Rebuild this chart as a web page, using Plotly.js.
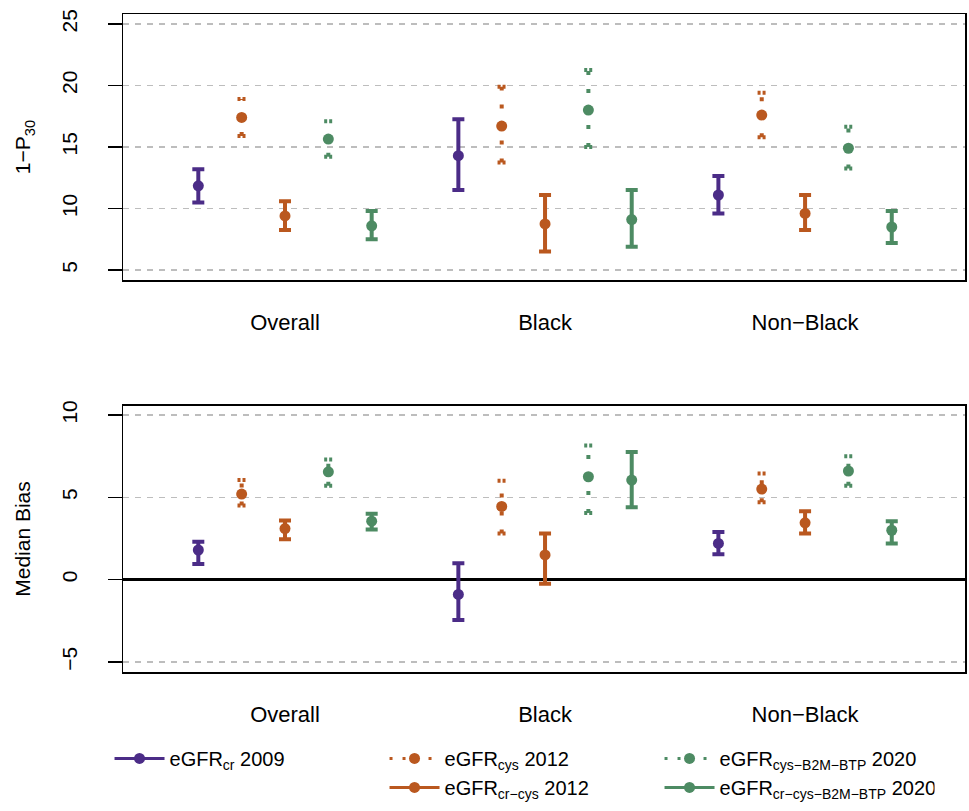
<!DOCTYPE html>
<html><head><meta charset="utf-8">
<script src="https://cdn.plot.ly/plotly-3.0.1.min.js"></script>
<style>html,body{margin:0;padding:0;background:#fff}</style>
</head><body><div id="chart" style="width:969px;height:811px"></div>
<script>
// ---- data ----
const groups = ["Overall", "Black", "Non\u2212Black"];
const seriesNames = [
  "eGFR<sub>cr</sub> 2009",
  "eGFR<sub>cys</sub> 2012",
  "eGFR<sub>cr\u2212cys</sub> 2012",
  "eGFR<sub>cys\u2212B2M\u2212BTP</sub> 2020",
  "eGFR<sub>cr\u2212cys\u2212B2M\u2212BTP</sub> 2020"
];
// Panel 1: 1-P30 (estimate, lower, upper) per group
const p30_cr2009      = [11.85, 14.3, 11.1];
const p30_cr2009_lo   = [10.5, 11.5, 9.6];
const p30_cr2009_hi   = [13.2, 17.25, 12.65];
const p30_cys2012     = [17.4, 16.7, 17.6];
const p30_cys2012_lo  = [15.9, 13.75, 15.8];
const p30_cys2012_hi  = [18.9, 19.9, 19.4];
const p30_crcys2012   = [9.4, 8.75, 9.6];
const p30_crcys2012_lo= [8.25, 6.5, 8.25];
const p30_crcys2012_hi= [10.6, 11.1, 11.1];
const p30_cysB2M2020    = [15.65, 18.0, 14.9];
const p30_cysB2M2020_lo = [14.2, 15.0, 13.25];
const p30_cysB2M2020_hi = [17.1, 21.25, 16.65];
const p30_crcysB2M2020    = [8.6, 9.1, 8.5];
const p30_crcysB2M2020_lo = [7.5, 6.9, 7.2];
const p30_crcysB2M2020_hi = [9.8, 11.5, 9.8];
// Panel 2: Median Bias
const bias_cr2009      = [1.8, -0.9, 2.2];
const bias_cr2009_lo   = [0.95, -2.45, 1.55];
const bias_cr2009_hi   = [2.3, 1.0, 2.9];
const bias_cys2012     = [5.2, 4.45, 5.5];
const bias_cys2012_lo  = [4.5, 2.8, 4.7];
const bias_cys2012_hi  = [6.05, 6.0, 6.45];
const bias_crcys2012   = [3.1, 1.5, 3.45];
const bias_crcys2012_lo= [2.45, -0.25, 2.8];
const bias_crcys2012_hi= [3.6, 2.8, 4.15];
const bias_cysB2M2020    = [6.55, 6.25, 6.6];
const bias_cysB2M2020_lo = [5.7, 4.05, 5.7];
const bias_cysB2M2020_hi = [7.3, 8.15, 7.5];
const bias_crcysB2M2020    = [3.55, 6.05, 3.0];
const bias_crcysB2M2020_lo = [3.05, 4.4, 2.2];
const bias_crcysB2M2020_hi = [4.0, 7.75, 3.55];

const yTicksP30 = [5, 10, 15, 20, 25];
const yTicksBias = [-5, 0, 5, 10];

// ---- style ----
const colors = ["#4B2C87", "#BA581F", "#BA581F", "#4D8B63", "#4D8B63"];
const dotted = [false, true, false, true, false];
const legendRanks = [0, 1, 4, 2, 5];
const offsets = [-1/3, -1/6, 0, 1/6, 1/3];
const FONT = "Liberation Sans, Arial, Helvetica, sans-serif";
const capHalf = 0.016;

const p30Data = [
  [p30_cr2009, p30_cr2009_lo, p30_cr2009_hi],
  [p30_cys2012, p30_cys2012_lo, p30_cys2012_hi],
  [p30_crcys2012, p30_crcys2012_lo, p30_crcys2012_hi],
  [p30_cysB2M2020, p30_cysB2M2020_lo, p30_cysB2M2020_hi],
  [p30_crcysB2M2020, p30_crcysB2M2020_lo, p30_crcysB2M2020_hi]
];
const biasData = [
  [bias_cr2009, bias_cr2009_lo, bias_cr2009_hi],
  [bias_cys2012, bias_cys2012_lo, bias_cys2012_hi],
  [bias_crcys2012, bias_crcys2012_lo, bias_crcys2012_hi],
  [bias_cysB2M2020, bias_cysB2M2020_lo, bias_cysB2M2020_hi],
  [bias_crcysB2M2020, bias_crcysB2M2020_lo, bias_crcysB2M2020_hi]
];

function gap(arr) { const out = []; arr.forEach((v, i) => { if (i) out.push(null); out.push(v); }); return out; }

function panelTraces(data, xa, ya, legend) {
  const traces = [];
  data.forEach((d, s) => {
    const [est, lo, hi] = d;
    const xs = groups.map((g, i) => i + offsets[s]);
    const c = colors[s];
    if (dotted[s]) {
      const vx = [], vy = [], cx = [], cy = [];
      xs.forEach((x, i) => {
        vx.push(x, x, null); vy.push(lo[i], hi[i], null);
        cx.push(x - capHalf, x + capHalf, null, x - capHalf, x + capHalf, null);
        cy.push(lo[i], lo[i], null, hi[i], hi[i], null);
      });
      traces.push({x: vx, y: vy, xaxis: xa, yaxis: ya, mode: 'lines', showlegend: false, hoverinfo: 'skip',
        line: {color: c, width: 4, dash: '4px,14px'}});
      traces.push({x: cx, y: cy, xaxis: xa, yaxis: ya, mode: 'lines', showlegend: false, hoverinfo: 'skip',
        line: {color: c, width: 4, dash: '3px,2px'}});
      traces.push({x: gap(xs), y: gap(est), xaxis: xa, yaxis: ya, mode: 'lines+markers', name: seriesNames[s],
        showlegend: legend, legendrank: legendRanks[s], connectgaps: false,
        line: {color: c, width: 3, dash: '3px,10px'}, marker: {color: c, size: 11}});
    } else {
      traces.push({x: gap(xs), y: gap(est), xaxis: xa, yaxis: ya, mode: 'lines+markers', name: seriesNames[s],
        showlegend: legend, legendrank: legendRanks[s], connectgaps: false,
        line: {color: c, width: 3}, marker: {color: c, size: 11},
        error_y: {type: 'data', symmetric: false, array: gap(est.map((v, i) => hi[i] - v)),
          arrayminus: gap(est.map((v, i) => v - lo[i])), color: c, thickness: 4, width: 6}});
    }
  });
  return traces;
}

let traces = [];
traces = traces.concat(panelTraces(p30Data, 'x', 'y', true));
traces = traces.concat(panelTraces(biasData, 'x2', 'y2', false));
// blank legend cell
traces.push({x: [null], y: [null], xaxis: 'x', yaxis: 'y', mode: 'lines', name: ' ', showlegend: true,
  legendrank: 3, line: {color: 'rgba(0,0,0,0)', width: 1}, hoverinfo: 'skip'});

const xCommon = {
  range: [-0.623, 2.615], tickvals: [0, 1, 2], ticktext: groups, ticks: '', showgrid: false, zeroline: false,
  showline: true, mirror: true, linecolor: '#000', linewidth: 1.5, ticklabelstandoff: 22,
  tickfont: {family: FONT, size: 22, color: '#000'}, fixedrange: true
};
const yCommon = {
  ticks: 'outside', ticklen: 14, tickwidth: 1.5, tickcolor: '#000', tickangle: -90,
  showline: true, mirror: true, linecolor: '#000', linewidth: 1.5,
  showgrid: true, gridcolor: '#BDBDBD', gridwidth: 1.5, griddash: '6px,6px',
  tickfont: {family: FONT, size: 21, color: '#000'}, ticklabelstandoff: 22
};

const layout = {
  width: 969, height: 811,
  margin: {l: 123, r: 4, t: 14, b: 139},
  paper_bgcolor: '#fff', plot_bgcolor: '#fff',
  showlegend: true,
  font: {family: FONT, color: '#000'},
  xaxis: Object.assign({}, xCommon, {anchor: 'y'}),
  xaxis2: Object.assign({}, xCommon, {anchor: 'y2'}),
  yaxis: Object.assign({}, yCommon, {domain: [0.5957, 1], range: [4.19, 25.81], tickvals: yTicksP30, zeroline: false,
    anchor: 'x', title: {text: '1\u2212P<sub>30</sub>', font: {family: FONT, size: 21, color: '#000'}, standoff: 21}}),
  yaxis2: Object.assign({}, yCommon, {domain: [0, 0.4043], range: [-5.61, 10.55], tickvals: yTicksBias,
    zeroline: true, zerolinecolor: '#000', zerolinewidth: 3, anchor: 'x2',
    title: {text: 'Median Bias', font: {family: FONT, size: 21, color: '#000'}, standoff: 21}}),
  legend: {orientation: 'h', x: -0.016, y: -0.205, xanchor: 'left', yanchor: 'bottom',
    entrywidth: 210, itemwidth: 50, font: {family: FONT, size: 20, color: '#000'}, bgcolor: 'rgba(0,0,0,0)',
    traceorder: 'normal', itemclick: false, itemdoubleclick: false},
  hovermode: false
};

Plotly.newPlot('chart', traces, layout, {displayModeBar: false, staticPlot: true});
</script></body></html>
